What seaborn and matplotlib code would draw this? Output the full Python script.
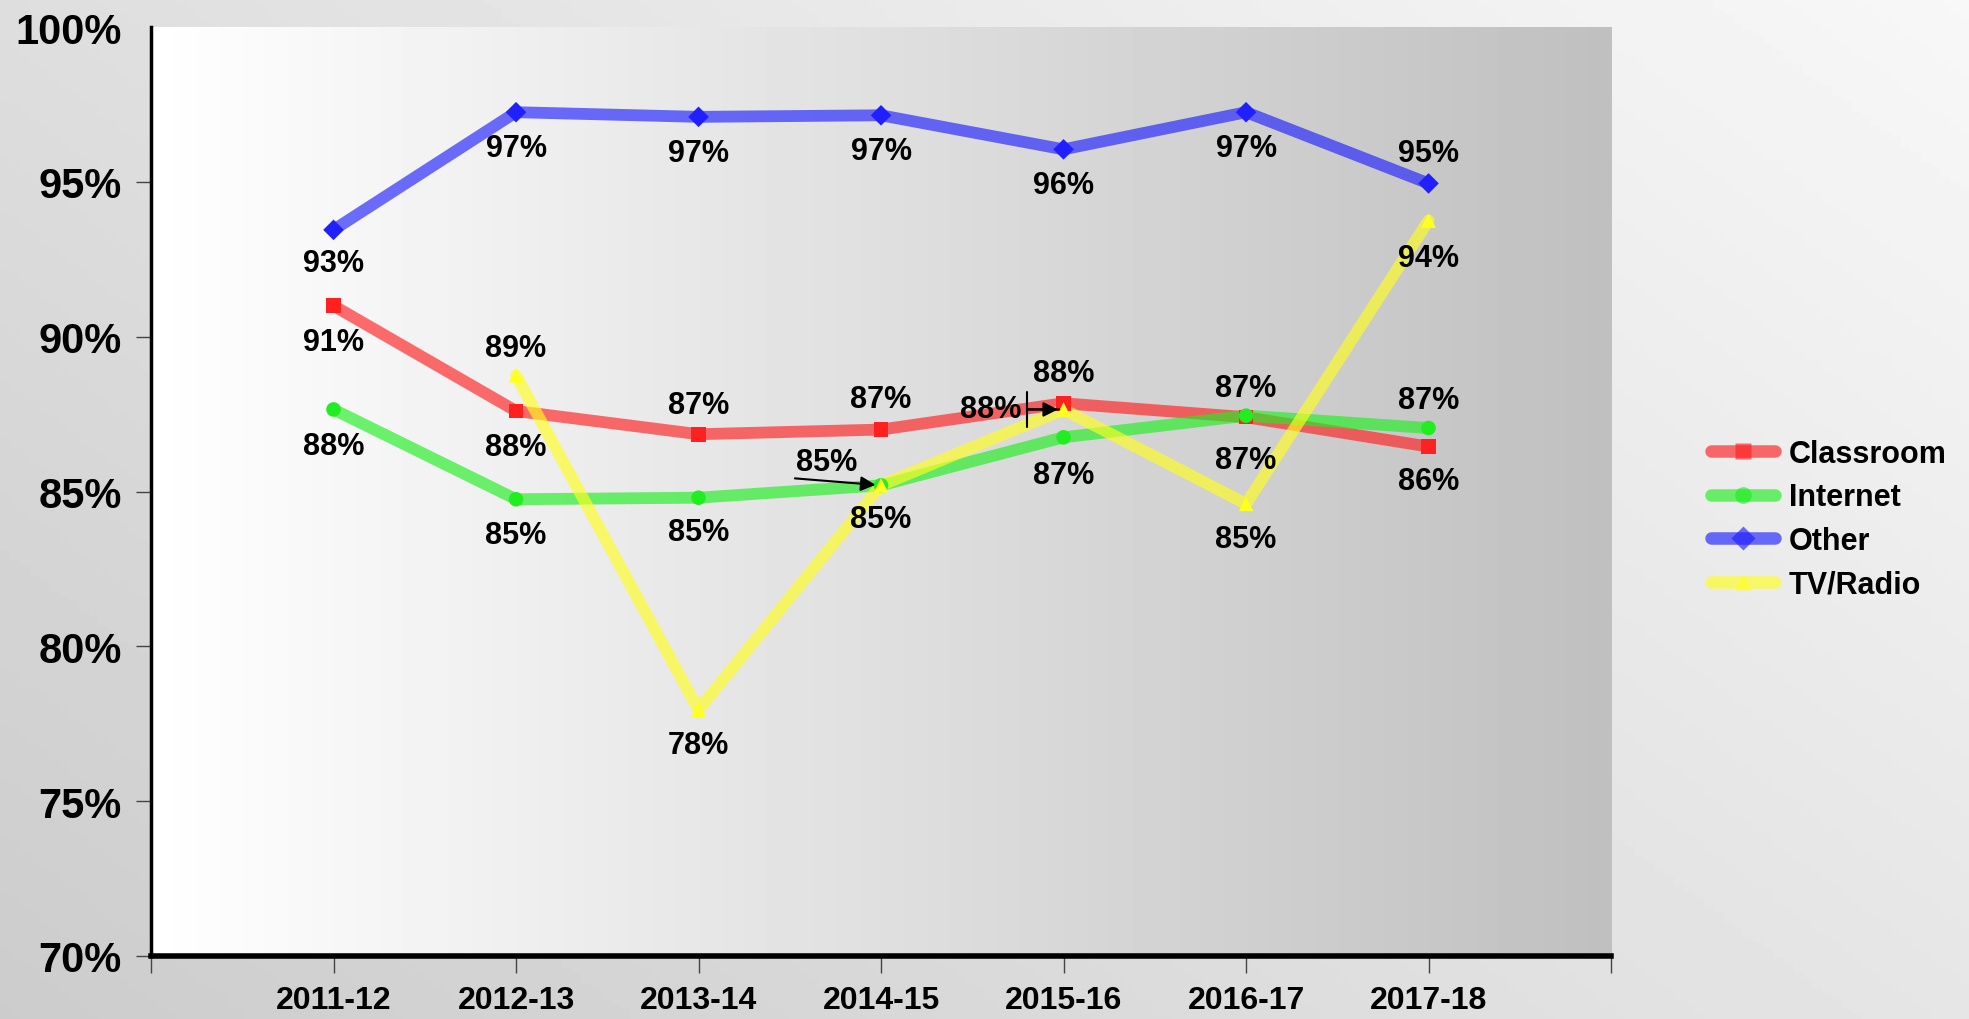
import numpy as np
import pandas as pd
import seaborn as sns
import matplotlib.pyplot as plt
from matplotlib.lines import Line2D

# ============================================
# DADOS
# ============================================
anos = ['2011-12', '2012-13', '2013-14', '2014-15', '2015-16', '2016-17', '2017-18']
classroom = [91.0, 87.6, 86.85, 87.0, 87.85, 87.4, 86.45]
internet = [87.65, 84.75, 84.8, 85.2, 86.75, 87.45, 87.05]
other = [93.45, 97.25, 97.1, 97.15, 96.05, 97.25, 94.95]
tv_radio = [np.nan, 88.75, 77.95, 85.2, 87.65, 84.6, 93.75]

series = ['Classroom', 'Internet', 'Other', 'TV/Radio']
valores = [classroom, internet, other, tv_radio]

# posicao dos rotulos (pontos de deslocamento vertical; 'arrow' = com seta)
rotulos_pos = {
    'Classroom': [-26, -26, 21, 22, 22, 21, -25],
    'Internet': [-26, -26, -25, 'arrowL', -27, -32, 20],
    'Other': [-24, -26, -26, -26, -26, -26, 22],
    'TV/Radio': [None, 20, -25, -24, 'arrowR', -25, -27],
}

cores = {'Classroom': '#ff2020', 'Internet': '#20ee20', 'Other': '#2020ff', 'TV/Radio': '#ffff20'}
marcadores = {'Classroom': 's', 'Internet': 'o', 'Other': 'D', 'TV/Radio': '^'}

df = pd.DataFrame({
    'pos': np.tile(np.arange(len(anos)), len(series)),
    'serie': np.repeat(series, len(anos)),
    'valor': np.concatenate(valores),
})

# ============================================
# FIGURA
# ============================================
sns.set_style('white')
plt.rcParams['font.family'] = ['Liberation Sans', 'DejaVu Sans']
plt.rcParams['font.weight'] = 'bold'
plt.rcParams['text.color'] = 'black'
plt.rcParams['xtick.color'] = '#444444'
plt.rcParams['ytick.color'] = '#444444'
plt.rcParams['xtick.labelcolor'] = 'black'
plt.rcParams['ytick.labelcolor'] = 'black'

fig = plt.figure(figsize=(19.69, 10.20), dpi=100)

# fundo da figura em degrade
bg = fig.add_axes([0, 0, 1, 1], zorder=-10)
gx, gy = np.meshgrid(np.linspace(0, 1, 200), np.linspace(0, 1, 200))
grad = 0.80 + 0.10 * gx + 0.07 * (1 - gy)
bg.imshow(grad, cmap='gray', vmin=0, vmax=1, aspect='auto', extent=[0, 1, 0, 1])
bg.axis('off')

ax = fig.add_axes([0.0767, 0.0618, 0.7415, 0.9107])
ax.patch.set_alpha(0)

# degrade da area do grafico
ax.imshow(np.linspace(1.0, 0.75, 256).reshape(1, -1), cmap='gray', vmin=0, vmax=1,
          aspect='auto', extent=[0, 1, 0, 1], transform=ax.transAxes, zorder=0)

for s in series:
    d = df[df['serie'] == s].dropna()
    sns.lineplot(data=d, x='pos', y='valor', ax=ax, color=cores[s], linewidth=8.5,
                 alpha=0.65, zorder=3, legend=False)
    sns.scatterplot(data=d, x='pos', y='valor', ax=ax, color=cores[s],
                    marker=marcadores[s], s=110, edgecolor='none', zorder=4, legend=False)

# rotulos de dados
seta = dict(arrowstyle='-|>', color='black', lw=1.5, shrinkA=0, shrinkB=4, mutation_scale=22)
for s, v in zip(series, valores):
    for i, val in enumerate(v):
        pos = rotulos_pos[s][i]
        if pos is None or np.isnan(val):
            continue
        txt = f'{val:.0f}%'
        if pos == 'arrowL':
            ax.annotate(txt, xy=(i, val), xytext=(-39, 17), textcoords='offset points',
                        ha='center', va='center', fontsize=22, fontweight='bold', zorder=6)
            ax.annotate('', xy=(i, val), xytext=(-62, 5), textcoords='offset points',
                        zorder=6, arrowprops=seta)
        elif pos == 'arrowR':
            ax.annotate(txt, xy=(i, val), xytext=(-30, 0), textcoords='offset points',
                        ha='right', va='center', fontsize=22, fontweight='bold', zorder=6)
            ax.annotate('', xy=(i, val), xytext=(-26, 0), textcoords='offset points',
                        zorder=6, arrowprops=seta)
            # barra vertical no inicio da seta
            ax.annotate('', xy=(i, val), xytext=(-26, 0), textcoords='offset points',
                        zorder=6,
                        arrowprops=dict(arrowstyle=']-, widthA=0.62, lengthA=0',
                                        mutation_scale=20,
                                        color='black', lw=1.5, shrinkA=0, shrinkB=3))
        else:
            ax.annotate(txt, xy=(i, val), xytext=(0, pos), textcoords='offset points',
                        ha='center', va='center', fontsize=22, fontweight='bold', zorder=6)

# eixos
ax.set_xlim(-1, len(anos))
ax.set_ylim(70, 100)
ax.set_xticks(range(-1, len(anos) + 1))
ax.set_xticklabels([''] + anos + [''])
ax.set_yticks(range(70, 101, 5))
ax.set_yticklabels([f'{t}%' for t in range(70, 101, 5)])
ax.set_xlabel('')
ax.set_ylabel('')
ax.tick_params(axis='x', bottom=True, direction='out', length=12, width=1,
               labelsize=23, pad=9)
ax.tick_params(axis='y', left=True, direction='out', length=11, width=1,
               labelsize=30, pad=10)
for lab in ax.get_xticklabels() + ax.get_yticklabels():
    lab.set_fontweight('bold')
# sem marca no 100%
ax.yaxis.get_major_ticks()[-1].tick1line.set_visible(False)

for lado in ['top', 'right']:
    ax.spines[lado].set_visible(False)
ax.spines['left'].set_color('black')
ax.spines['left'].set_linewidth(2.5)
ax.spines['bottom'].set_color('black')
ax.spines['bottom'].set_linewidth(4)
ax.spines['left'].set_zorder(5)
ax.spines['bottom'].set_zorder(5)

# legenda
handles = [Line2D([0], [0], color=cores[s], lw=9, alpha=0.65, marker=marcadores[s],
                  markersize=12, markerfacecolor=cores[s], markeredgecolor='none')
           for s in series]
leg = fig.legend(handles, series, loc='center left', bbox_to_anchor=(0.855, 0.49),
                 frameon=False, handlelength=2.1, handletextpad=0.45, labelspacing=0.45,
                 prop={'weight': 'bold', 'size': 22})

plt.savefig('out.png', dpi=100)
plt.close('all')
